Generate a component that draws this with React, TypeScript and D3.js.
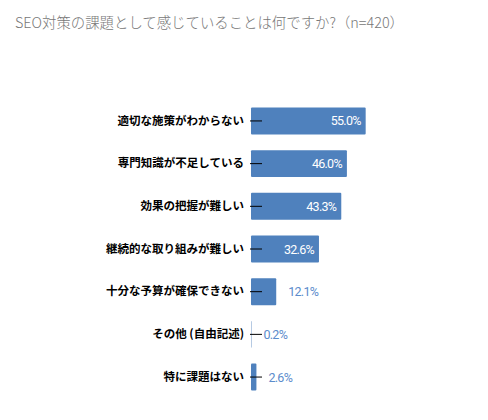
import * as d3 from "d3";
import { useEffect, useRef } from "react";

const title = "SEO対策の課題として感じていることは何ですか?（n=420）";

const categories = [
  "適切な施策がわからない",
  "専門知識が不足している",
  "効果の把握が難しい",
  "継続的な取り組みが難しい",
  "十分な予算が確保できない",
  "その他 (自由記述)",
  "特に課題はない",
];

const values = [55.0, 46.0, 43.3, 32.6, 12.1, 0.2, 2.6];

const W = 488;
const H = 420;

export default function App() {
  const ref = useRef<SVGSVGElement | null>(null);

  useEffect(() => {
    document.body.style.margin = "0";
    if (!ref.current) return;

    const x = d3.scaleLinear().domain([0, 100]).range([251, 459.5]);
    const y = d3
      .scaleBand<string>()
      .domain(categories)
      .range([99.6, 398.4])
      .paddingInner(0.37)
      .paddingOuter(0.185);

    const svg = d3.select(ref.current);
    svg.selectAll("*").remove();

    svg
      .append("text")
      .attr("x", 15)
      .attr("y", 28)
      .attr("fill", "#777")
      .style("font-family", "'Noto Sans CJK JP', 'Noto Sans', sans-serif")
      .style("font-weight", 300)
      .style("font-size", "14.4px")
      .text(title);

    const rows = svg
      .selectAll("g.row")
      .data(categories.map((c, i) => ({ c, v: values[i] })))
      .join("g")
      .attr("class", "row");

    rows
      .append("rect")
      .attr("x", x(0))
      .attr("y", (d) => y(d.c)!)
      .attr("width", (d) => x(d.v) - x(0))
      .attr("height", y.bandwidth())
      .attr("rx", 1)
      .attr("fill", "#4f81bd");

    const inside = (v: number) => x(v) - x(0) > 45;

    rows
      .append("text")
      .attr("x", (d) => (inside(d.v) ? x(d.v) - 5 : x(d.v) + 12))
      .attr("y", (d) => y(d.c)! + y.bandwidth() / 2)
      .attr("dy", "0.36em")
      .attr("text-anchor", (d) => (inside(d.v) ? "end" : "start"))
      .attr("fill", (d) => (inside(d.v) ? "#fff" : "#5b8ccc"))
      .style("font-family", "Roboto, 'Liberation Sans', sans-serif")
      .style("font-size", "12.5px")
      .style("letter-spacing", "-0.7px")
      .text((d) => `${d.v.toFixed(1)}%`);

    const axis = d3.axisLeft(y).tickSize(-12).tickPadding(6);
    const g = svg.append("g").attr("transform", `translate(${x(0) - 1},0)`).call(axis);
    g.select(".domain").remove();
    g.selectAll(".tick line").attr("stroke", "#000").attr("stroke-width", 1);
    g.selectAll(".tick text")
      .attr("fill", "#000")
      .style("font-family", "'Noto Sans CJK JP', sans-serif")
      .style("font-weight", "bold")
      .style("font-size", "11.5px");
  }, []);

  return <svg ref={ref} width={W} height={H} style={{ display: "block" }} />;
}
